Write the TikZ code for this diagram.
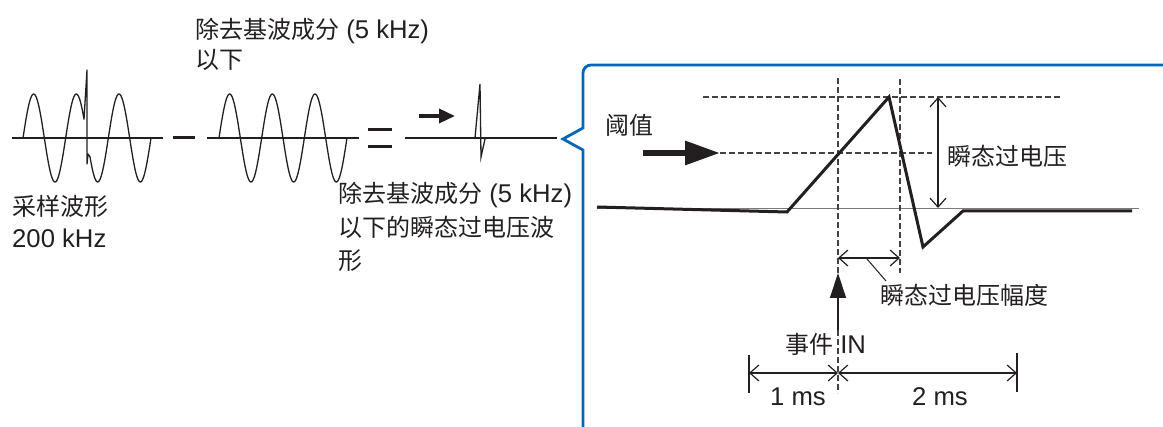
\documentclass[tikz,border=0pt]{standalone}
\usepackage{fontspec}
\setmainfont{Liberation Sans}[Scale=1.07]
\newfontfamily\cjk{Noto Sans CJK SC}
\usetikzlibrary{arrows.meta}
\definecolor{bracketblue}{RGB}{0,104,183}
\definecolor{inkgrey}{RGB}{35,31,32}
\begin{document}
\begin{tikzpicture}[x=1pt,y=-1pt,
  lbl/.style={inner sep=0pt, anchor=base west, text=inkgrey, font=\fontsize{24}{29}\selectfont},
  wave/.style={line width=1.3pt, inkgrey, line join=round},
  axisline/.style={line width=1.3pt, inkgrey},
  bold/.style={line width=3pt, inkgrey, line join=miter},
  dashline/.style={line width=1.2pt, dash pattern=on 6pt off 3pt, inkgrey!85},
  dimline/.style={line width=1.2pt, inkgrey, {Straight Barb[length=9pt,width=16pt]}-{Straight Barb[length=9pt,width=16pt]}},
  opsign/.style={line width=3pt, inkgrey},
]
\useasboundingbox (0,0) rectangle (1163,427);

% ---------- waveform 1 (sampled) ----------
\coordinate (a1s) at (12,138); \coordinate (a1e) at (163,138);
\draw[axisline] (a1s) -- (a1e);
\draw[wave] plot[domain=23:84, samples=80] (\x,{138-44*sin(8.437*(\x-23))})
  -- (87,70) -- (87,164) -- (88,154)
  -- plot[domain=90:151, samples=80] (\x,{138-44*sin(8.437*(\x-23))});

% minus sign
\coordinate (m1) at (173,138); \coordinate (m2) at (195,138);
\draw[opsign] (m1) -- (m2);

% ---------- waveform 2 (fundamental) ----------
\coordinate (a2s) at (207,138); \coordinate (a2e) at (359,138);
\draw[axisline] (a2s) -- (a2e);
\draw[wave] plot[domain=219:347, samples=160] (\x,{138-44*sin(8.437*(\x-219))});

% equals sign
\coordinate (e1) at (368,130); \coordinate (e2) at (392,130);
\coordinate (e3) at (368,147); \coordinate (e4) at (392,147);
\draw[opsign] (e1) -- (e2);
\draw[opsign] (e3) -- (e4);

% ---------- waveform 3 (transient) ----------
\coordinate (a3s) at (405,138); \coordinate (a3e) at (557,138);
\draw[axisline] (a3s) -- (a3e);
\draw[wave, line join=miter] (475,138) -- (480,84) -- (481,157) -- (485,139);
\coordinate (sa1) at (419,116); \coordinate (sa2) at (455,116);
\draw[line width=3.5pt, inkgrey, -{Triangle[length=16pt,width=14pt]}] (sa1) -- (sa2);

% ---------- blue bracket ----------
\draw[bracketblue, line width=2.8pt, line join=miter]
  (583,430) -- (583,150) -- (563,139) -- (583,128)
  [rounded corners=8pt] -- (583,65) -- (1163,65);

% ---------- panel ----------
\coordinate (b0) at (597,208); \coordinate (b1) at (1139,208);
\draw[line width=0.8pt, inkgrey!60] (b0) -- (b1);

% dashed guides
\coordinate (pk0) at (703,97);  \coordinate (pk1) at (1062,97);
\coordinate (th0) at (720,153); \coordinate (th1) at (932,153);
\coordinate (v1t) at (838,78);  \coordinate (v1b) at (838,393);
\coordinate (v2t) at (900,79);  \coordinate (v2b) at (900,273);
\draw[dashline] (pk0) -- (pk1);
\draw[dashline] (th0) -- (th1);
\draw[dashline] (v1t) -- (v1b);
\draw[dashline] (v2t) -- (v2b);

% bold waveform
\draw[bold] (597,207) -- (787,212) -- (889,97) -- (923,247) -- (963,211) -- (1132,211);

% threshold arrow
\coordinate (ta0) at (643,153);
\draw[line width=6pt, inkgrey, -{Triangle[length=35pt,width=23pt]}] (ta0) -- (th0);

% transient voltage dimension
\coordinate (tv0) at (938,97); \coordinate (tv1) at (938,208);
\draw[dimline] (tv0) -- (tv1);

% pulse width dimension
\coordinate (pw0) at (838,258); \coordinate (pw1) at (900,258);
\draw[dimline] (pw0) -- (pw1);
\coordinate (ld0) at (867,259); \coordinate (ld1) at (886,281);
\draw[line width=1pt, inkgrey] (ld0) -- (ld1);

% event IN arrow
\coordinate (evtail) at (838,330); \coordinate (evtip) at (838,273);
\draw[line width=1.3pt, inkgrey, -{Triangle[length=25pt,width=16pt]}] (evtail) -- (evtip);

% time scale
\coordinate (ts0) at (749,373); \coordinate (tsm) at (838,373); \coordinate (ts1) at (1017,373);
\coordinate (tk0a) at (749,355); \coordinate (tk0b) at (749,393);
\coordinate (tk1a) at (1017,353); \coordinate (tk1b) at (1017,392);
\draw[line width=1.2pt, inkgrey] (tk0a) -- (tk0b);
\draw[line width=1.2pt, inkgrey] (tk1a) -- (tk1b);
\draw[dimline] (ts0) -- (tsm);
\draw[dimline] (tsm) -- (ts1);

% ---------- labels ----------
\node[lbl] (t1) at (195,39) {{\cjk 除去基波成分} (5 kHz)};
\node[lbl] (t2) at (195,69) {{\cjk 以下}};
\node[lbl] (s1) at (12,216) {{\cjk 采样波形}};
\node[lbl] (s2) at (12,248) {200 kHz};
\node[lbl] (r1) at (338,203) {{\cjk 除去基波成分} (5 kHz)};
\node[lbl] (r2) at (338,237) {{\cjk 以下的瞬态过电压波}};
\node[lbl] (r3) at (338,270) {{\cjk 形}};
\node[lbl] (thr) at (605,135) {{\cjk 阈值}};
\node[lbl] (tov) at (947,166) {{\cjk 瞬态过电压}};
\node[lbl] (tow) at (880,305) {{\cjk 瞬态过电压幅度}};
\node[lbl] (evt) at (785,354) {{\cjk 事件} IN};
\node[lbl] (ms1) at (770,406) {1 ms};
\node[lbl] (ms2) at (912,406) {2 ms};
\end{tikzpicture}
\end{document}
